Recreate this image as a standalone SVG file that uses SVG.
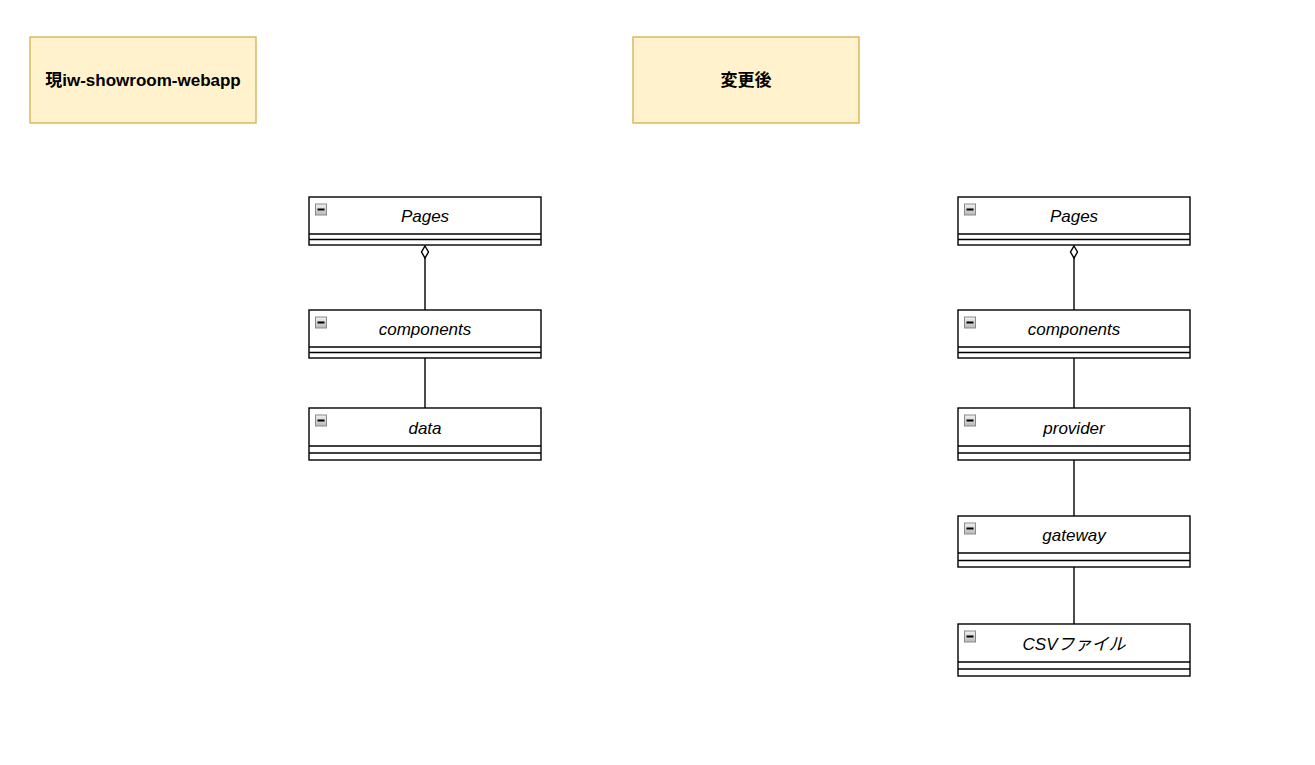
<svg xmlns="http://www.w3.org/2000/svg" width="1315" height="765" viewBox="0 0 1315 765">
<style>
.note{fill:#fff2cc;stroke:#d6b656;stroke-width:1.4}
.title{font-family:"Liberation Sans","Noto Sans CJK JP",sans-serif;font-size:17px;font-weight:bold;fill:#000;text-anchor:middle}
.cls{fill:#fff;stroke:#000;stroke-width:1.4}
.sep{stroke:#000;stroke-width:1.4}
.lbl{font-family:"Liberation Sans","Noto Sans CJK JP",sans-serif;font-size:17px;font-style:italic;fill:#000;text-anchor:middle}
.conn{stroke:#000;stroke-width:1.4;fill:none}
.ico{fill:url(#g);stroke:#8a8a8a;stroke-width:1}
.dash{stroke:#000;stroke-width:2}
</style>
<defs>
<linearGradient id="g" x1="0" y1="0" x2="0" y2="1">
<stop offset="0" stop-color="#f2f2f2"/>
<stop offset="1" stop-color="#b8b8b8"/>
</linearGradient>
<g id="icon"><rect class="ico" x="0.5" y="0.5" width="11" height="11"/><line class="dash" x1="2.5" y1="6" x2="9.5" y2="6"/></g>
</defs>
<rect width="1315" height="765" fill="#fff"/>
<g id="note-current"><rect class="note" x="30" y="37" width="226" height="86"/><text class="title" x="143" y="86">現iw-showroom-webapp</text></g>
<g id="note-after"><rect class="note" x="633" y="37" width="226" height="86"/><text class="title" x="746" y="86">変更後</text></g>
<g id="connectors">
<line class="conn" x1="425" y1="258" x2="425" y2="310"/>
<path d="M425 246 L428.5 252 L425 258 L421.5 252 Z" fill="#fff" stroke="#000" stroke-width="1.4"/>
<line class="conn" x1="425" y1="358" x2="425" y2="408"/>
<line class="conn" x1="1074" y1="258" x2="1074" y2="310"/>
<path d="M1074 246 L1077.5 252 L1074 258 L1070.5 252 Z" fill="#fff" stroke="#000" stroke-width="1.4"/>
<line class="conn" x1="1074" y1="358" x2="1074" y2="408"/>
<line class="conn" x1="1074" y1="460" x2="1074" y2="516"/>
<line class="conn" x1="1074" y1="567" x2="1074" y2="624"/>
</g>
<g id="l-pages"><rect class="cls" x="309" y="197" width="232" height="48"/><line class="sep" x1="309" y1="234" x2="541" y2="234"/><line class="sep" x1="309" y1="239.5" x2="541" y2="239.5"/><use href="#icon" x="315" y="203.5"/><text class="lbl" x="425" y="222">Pages</text></g>
<g id="l-components"><rect class="cls" x="309" y="310" width="232" height="48"/><line class="sep" x1="309" y1="347" x2="541" y2="347"/><line class="sep" x1="309" y1="352.5" x2="541" y2="352.5"/><use href="#icon" x="315" y="316.5"/><text class="lbl" x="425" y="335">components</text></g>
<g id="l-data"><rect class="cls" x="309" y="408" width="232" height="52"/><line class="sep" x1="309" y1="446" x2="541" y2="446"/><line class="sep" x1="309" y1="453" x2="541" y2="453"/><use href="#icon" x="315" y="414.5"/><text class="lbl" x="425" y="434">data</text></g>
<g id="r-pages"><rect class="cls" x="958" y="197" width="232" height="48"/><line class="sep" x1="958" y1="234" x2="1190" y2="234"/><line class="sep" x1="958" y1="239.5" x2="1190" y2="239.5"/><use href="#icon" x="964" y="203.5"/><text class="lbl" x="1074" y="222">Pages</text></g>
<g id="r-components"><rect class="cls" x="958" y="310" width="232" height="48"/><line class="sep" x1="958" y1="347" x2="1190" y2="347"/><line class="sep" x1="958" y1="352.5" x2="1190" y2="352.5"/><use href="#icon" x="964" y="316.5"/><text class="lbl" x="1074" y="335">components</text></g>
<g id="r-provider"><rect class="cls" x="958" y="408" width="232" height="52"/><line class="sep" x1="958" y1="446" x2="1190" y2="446"/><line class="sep" x1="958" y1="453" x2="1190" y2="453"/><use href="#icon" x="964" y="414.5"/><text class="lbl" x="1074" y="434">provider</text></g>
<g id="r-gateway"><rect class="cls" x="958" y="516" width="232" height="51"/><line class="sep" x1="958" y1="553" x2="1190" y2="553"/><line class="sep" x1="958" y1="560.5" x2="1190" y2="560.5"/><use href="#icon" x="964" y="522.5"/><text class="lbl" x="1074" y="541">gateway</text></g>
<g id="r-csv"><rect class="cls" x="958" y="624" width="232" height="52"/><line class="sep" x1="958" y1="662" x2="1190" y2="662"/><line class="sep" x1="958" y1="669" x2="1190" y2="669"/><use href="#icon" x="964" y="630.5"/><text class="lbl" x="1074" y="650">CSVファイル</text></g>
</svg>
